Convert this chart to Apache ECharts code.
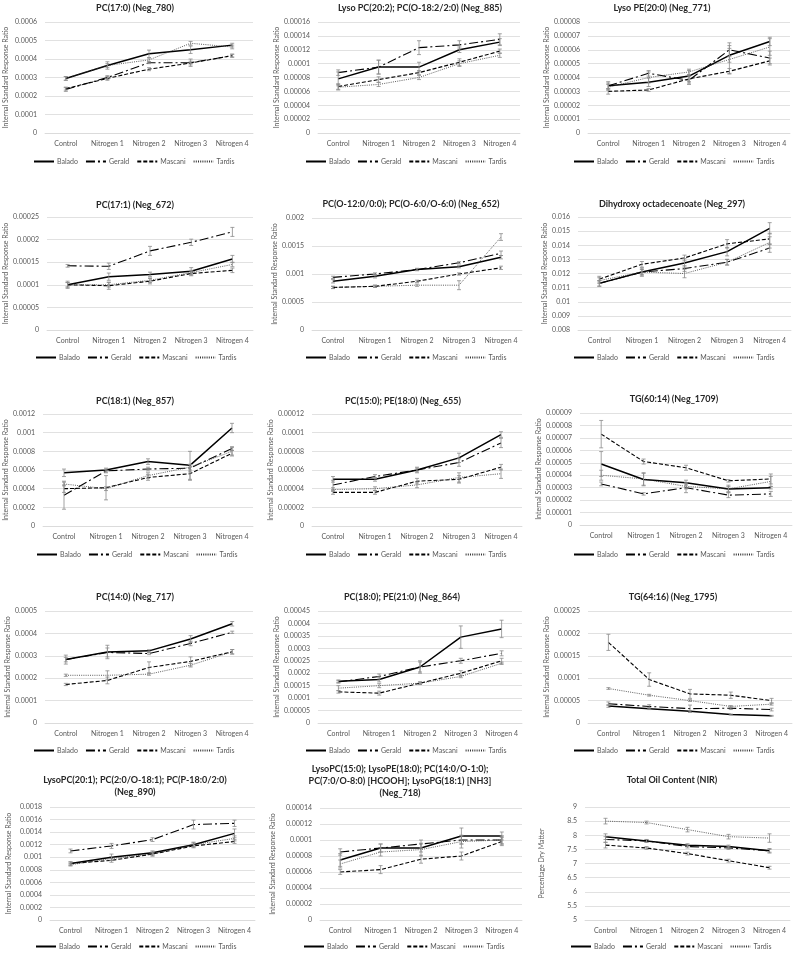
<!DOCTYPE html>
<html><head><meta charset="utf-8">
<script src="https://cdn.jsdelivr.net/npm/echarts@6/dist/echarts.min.js"></script>
<style>html,body{margin:0;padding:0;background:#fff}#c{width:793px;height:954px}</style>
</head><body><div id="c"></div>
<script>
// ---------- DATA ----------
const categories = ['Control','Nitrogen 1','Nitrogen 2','Nitrogen 3','Nitrogen 4'];
const varieties = ['Balado','Gerald','Mascani','Tardis'];
const panelTitles = [
  'PC(17:0) (Neg_780)',
  'Lyso PC(20:2); PC(O-18:2/2:0) (Neg_885)',
  'Lyso PE(20:0) (Neg_771)',
  'PC(17:1) (Neg_672)',
  'PC(O-12:0/0:0); PC(O-6:0/O-6:0) (Neg_652)',
  'Dihydroxy octadecenoate (Neg_297)',
  'PC(18:1) (Neg_857)',
  'PC(15:0); PE(18:0) (Neg_655)',
  'TG(60:14) (Neg_1709)',
  'PC(14:0) (Neg_717)',
  'PC(18:0); PE(21:0) (Neg_864)',
  'TG(64:16) (Neg_1795)',
  'LysoPC(20:1); PC(2:0/O-18:1); PC(P-18:0/2:0)\n(Neg_890)',
  'LysoPC(15:0); LysoPE(18:0); PC(14:0/O-1:0);\nPC(7:0/O-8:0) [HCOOH]; LysoPG(18:1) [NH3]\n(Neg_718)',
  'Total Oil Content (NIR)'
];
const yAxisNames = Array(14).fill('Internal Standard Response Ratio').concat(['Percentage Dry Matter']);
const yMins  = [0,0,0, 0,0,0.008, 0,0,0, 0,0,0, 0,0,5];
const yMaxs  = [0.0006,0.00016,0.00008, 0.00025,0.002,0.016, 0.0012,0.00012,0.00009, 0.0005,0.00045,0.00025, 0.0018,0.00014,9];
const ySteps = [0.0001,0.00002,0.00001, 0.00005,0.0005,0.001, 0.0002,0.00002,0.00001, 0.0001,0.00005,0.00005, 0.0002,0.00002,0.5];

// means: rows = Balado, Gerald, Mascani, Tardis
const neg780 = [[0.000295,0.000365,0.000428,0.00045,0.000475],[0.000235,0.0003,0.00038,0.00038,0.000418],[0.00024,0.000295,0.000345,0.000378,0.000418],[0.000295,0.000365,0.000395,0.000485,0.000465]];
const neg780Err = [[0.00001,0.00001,0.00002,0.00002,0.00001],[0.00001,0.00001,0.000005,0.00002,0.000008],[0.000008,0.00001,0.000008,0.00001,0.000008],[0.00001,0.00002,0.00001,0.00001,0.00001]];
const neg885 = [[0.000078,0.000095,0.000095,0.00012,0.000131],[0.000087,0.000095,0.000123,0.000127,0.000135],[0.000067,0.000077,0.000087,0.000102,0.000118],[0.000066,0.00007,0.00008,0.0001,0.000112]];
const neg885Err = [[0.00001,0.00001,0.000007,0.000004,0.000005],[0.000004,0.00001,0.00001,0.000006,0.000008],[0.000004,0.000004,0.000003,0.000005,0.000003],[0.000004,0.000003,0.000003,0.000004,0.000003]];
const neg771 = [[0.000034,0.0000365,0.000041,0.000056,0.000066],[0.000034,0.000043,0.000038,0.00006,0.000054],[0.00003,0.000031,0.000039,0.0000445,0.000052],[0.000033,0.00004,0.000044,0.000053,0.000062]];
const neg771Err = [[0.000003,0.000003,0.000004,0.000005,0.000003],[0.000002,0.000002,0.000003,0.000005,0.000005],[0.000002,0.000001,0.000003,0.000002,0.000002],[0.000002,0.000004,0.000002,0.00001,0.000006]];
const neg672 = [[0.0001,0.000118,0.000123,0.00013,0.000157],[0.000142,0.000141,0.000175,0.000194,0.000217],[0.0001,0.000098,0.000108,0.000125,0.000132],[0.0001,0.0001,0.00011,0.000127,0.000145]];
const neg672Err = [[0.000008,0.000008,0.000005,0.000008,0.000008],[0.000003,0.000007,0.00001,0.000007,0.00001],[0.000005,0.000008,0.000006,0.000005,0.000005],[0.000005,0.000005,0.000005,0.000005,0.000005]];
const neg652 = [[0.00087,0.00096,0.00108,0.00113,0.0013],[0.00094,0.001,0.00108,0.0012,0.00137],[0.00076,0.00078,0.00087,0.001,0.00111],[0.00076,0.00078,0.0008,0.0008,0.00166]];
const neg652Err = [[0.00003,0.00003,0.00002,0.00002,0.00003],[0.00002,0.00002,0.00002,0.00002,0.00004],[0.00002,0.00002,0.00002,0.00002,0.00003],[0.00002,0.00002,0.00002,0.00008,0.00006]];
const neg297 = [[0.0113,0.0121,0.01275,0.01355,0.0152],[0.0113,0.0121,0.01235,0.0128,0.0138],[0.0116,0.01265,0.0131,0.0141,0.01445],[0.0115,0.0121,0.012,0.0128,0.0142]];
const neg297Err = [[0.0002,0.0002,0.0003,0.0003,0.0004],[0.0002,0.0002,0.0002,0.0002,0.0003],[0.0002,0.0002,0.0002,0.0003,0.0004],[0.0002,0.0003,0.0003,0.0002,0.0004]];
const neg857 = [[0.00057,0.0006,0.00069,0.00065,0.00105],[0.00033,0.00059,0.00061,0.00062,0.00083],[0.0004,0.00041,0.00052,0.00056,0.00078],[0.00045,0.0004,0.00054,0.00063,0.0008]];
const neg857Err = [[0.00004,0.00002,0.00003,0.00015,0.00005],[0.00015,0.00002,0.00002,0.00004,0.00002],[0.00004,0.00013,0.00003,0.00007,0.00003],[0.00002,0.00002,0.00003,0.00003,0.00004]];
const neg655 = [[0.00005,0.00005,0.00006,0.000073,0.000098],[0.000044,0.000053,0.00006,0.000068,0.000089],[0.000036,0.000036,0.000048,0.00005,0.000063],[0.000039,0.00004,0.000044,0.000052,0.000056]];
const neg655Err = [[0.000003,0.000002,0.000002,0.000005,0.000003],[0.000005,0.000002,0.000003,0.000004,0.000005],[0.000002,0.000002,0.000003,0.000004,0.000003],[0.000002,0.000002,0.000003,0.000005,0.000005]];
const neg1709 = [[0.000049,0.0000365,0.000034,0.000029,0.00003],[0.000033,0.000025,0.00003,0.000024,0.000025],[0.000073,0.000051,0.000046,0.0000355,0.000037],[0.00004,0.000037,0.000031,0.000029,0.000035]];
const neg1709Err = [[0.00001,0.000005,0.000002,0.000002,0.000001],[0.0000015,0.000001,0.000004,0.000002,0.000002],[0.000011,0.000002,0.000002,0.000001,0.000004],[0.000004,0.000005,0.000002,0.000003,0.000004]];
const neg717 = [[0.000283,0.000317,0.000322,0.000375,0.000443],[0.000283,0.000315,0.00031,0.000355,0.000405],[0.000172,0.00019,0.000248,0.000275,0.000318],[0.000213,0.000213,0.000218,0.000258,0.000318]];
const neg717Err = [[0.00002,0.00003,0.000005,0.000015,0.00001],[0.00001,0.00002,0.000005,0.00001,0.000005],[0.000005,0.000015,0.000025,0.00002,0.00001],[0.000005,0.00002,0.000005,0.000008,0.00001]];
const neg864 = [[0.000168,0.000175,0.000225,0.000345,0.000378],[0.000165,0.000187,0.000225,0.00025,0.00028],[0.000125,0.00012,0.00016,0.0002,0.00025],[0.00014,0.00015,0.00016,0.000187,0.00024]];
const neg864Err = [[0.000005,0.00001,0.000025,0.000045,0.000035],[0.000005,0.00001,0.00002,0.00001,0.00001],[0.000005,0.000008,0.000005,0.00001,0.00001],[0.00001,0.000008,0.000005,0.000005,0.000005]];
const neg1795 = [[0.000038,0.000032,0.000026,0.000019,0.000016],[0.000043,0.000037,0.000032,0.000033,0.00003],[0.00018,0.000097,0.000065,0.000062,0.00005],[0.000077,0.000062,0.00005,0.000037,0.000042]];
const neg1795Err = [[0.000003,0.000002,0.000002,0.000001,0.000001],[0.000004,0.000004,0.000008,0.000003,0.000003],[0.000018,0.000015,0.00001,0.000007,0.000005],[0.000002,0.000002,0.000002,0.000002,0.000002]];
const neg890 = [[0.0009,0.001,0.00107,0.0012,0.00138],[0.0011,0.00118,0.00128,0.00152,0.00154],[0.0009,0.00095,0.00105,0.00118,0.00125],[0.00088,0.00098,0.00105,0.0012,0.0013]];
const neg890Err = [[0.00003,0.00005,0.00003,0.00004,0.00007],[0.00003,0.00004,0.00003,0.00007,0.00005],[0.00002,0.00003,0.00003,0.00003,0.00003],[0.00002,0.00003,0.00003,0.00003,0.00004]];
const neg718 = [[0.000075,0.00009,0.00009,0.000105,0.000105],[0.000085,0.00009,0.000095,0.0001,0.0001],[0.00006,0.000063,0.000076,0.00008,0.000098],[0.00007,0.000085,0.000088,0.000098,0.0001]];
const neg718Err = [[0.000008,0.000005,0.000005,0.00001,0.000005],[0.000004,0.000005,0.000005,0.000005,0.000005],[0.000003,0.000005,0.000005,0.000005,0.000005],[0.000005,0.000005,0.000008,0.000008,0.000005]];
const oilNIR = [[7.95,7.8,7.65,7.6,7.45],[7.85,7.8,7.6,7.55,7.45],[7.65,7.55,7.35,7.1,6.85],[8.5,8.45,8.2,7.95,7.9]];
const oilNIRErr = [[0.1,0.05,0.05,0.05,0.08],[0.1,0.05,0.05,0.05,0.05],[0.1,0.05,0.05,0.05,0.05],[0.1,0.05,0.08,0.08,0.15]];

const panelMeans = [neg780,neg885,neg771,neg672,neg652,neg297,neg857,neg655,neg1709,neg717,neg864,neg1795,neg890,neg718,oilNIR];
const panelErrs = [neg780Err,neg885Err,neg771Err,neg672Err,neg652Err,neg297Err,neg857Err,neg655Err,neg1709Err,neg717Err,neg864Err,neg1795Err,neg890Err,neg718Err,oilNIRErr];

// ---------- LAYOUT ----------
const gridBoxes = [
  [45,22,208,111],[318,22,202,111],[588,22,202,111],
  [47,217,206,113],[312,218,210,112],[578,217,213,113],
  [43,414,210,112],[312,414,210,112],[580,413,212,112],
  [45,611,208,112],[318,611,204,112],[588,611,204,112],
  [50,807,205,113],[320,808,202,112],[585,807,205,113]
];
const nameGaps = [36,36,34, 31,28,26, 29,33,25, 31,34,33, 38,44,40];
const titlePos = [
  [135,8],[420,8],[662,8],
  [135,205],[411,204],[672,204],
  [135,401],[403,401],[674,399],
  [135,597],[402,597],[673,597],
  [135,786],[400,781],[672,780]
];
const legendPos = [
  [33,163],[305,163],[573,163],
  [35,359],[305,359],[573,359],
  [36,556],[305,556],[573,556],
  [33,752],[305,752],[573,752],
  [35,948],[303,948],[570,948]
];
const FONT = 'Lato, "Open Sans", sans-serif';
const lineStyles = [
  {type:'solid', width:1.5, color:'#000'},
  {type:[9,3,2,3], width:1.1, color:'#000'},
  {type:[4,2], width:1.1, color:'#000'},
  {type:[1,1.2], width:0.8, color:'#333'}
];

function fmt(v){ return String(+Number(v).toPrecision(8)); }

function errRender(params, api){
  const x = api.value(0), lo = api.value(1), hi = api.value(2);
  const a = api.coord([x, lo]), b = api.coord([x, hi]);
  const hw = 2;
  const st = {stroke:'#8a8a8a', lineWidth:0.8, fill:null};
  return {type:'group', children:[
    {type:'line', shape:{x1:a[0],y1:a[1],x2:b[0],y2:b[1]}, style:st},
    {type:'line', shape:{x1:a[0]-hw,y1:a[1],x2:a[0]+hw,y2:a[1]}, style:st},
    {type:'line', shape:{x1:b[0]-hw,y1:b[1],x2:b[0]+hw,y2:b[1]}, style:st}
  ]};
}

const grid=[], xAxis=[], yAxis=[], series=[], legend=[], graphic=[];
panelTitles.forEach((t,p)=>{
  const [l,tp,w,h] = gridBoxes[p];
  grid.push({left:l, top:tp, width:w, height:h, containLabel:false});
  xAxis.push({type:'category', gridIndex:p, data:categories, boundaryGap:true,
    axisLine:{lineStyle:{color:'#d9d9d9', width:0.8}}, axisTick:{show:false},
    axisLabel:{fontFamily:FONT, fontSize:7, color:'#595959', margin:7, interval:0}});
  yAxis.push({type:'value', gridIndex:p, min:yMins[p], max:yMaxs[p], interval:ySteps[p],
    name:yAxisNames[p], nameLocation:'middle', nameGap:nameGaps[p],
    nameTextStyle:{fontFamily:FONT, fontSize:7, color:'#595959'},
    axisLine:{show:false}, axisTick:{show:false},
    splitLine:{lineStyle:{color:'#d9d9d9', width:0.8}},
    axisLabel:{fontFamily:FONT, fontSize:7, color:'#595959', margin:8, formatter:fmt}});
  const means = panelMeans[p], errs = panelErrs[p];
  varieties.forEach((v,s)=>{
    series.push({type:'line', name:v, xAxisIndex:p, yAxisIndex:p, data:means[s],
      symbol:'none', smooth:false, silent:true, animation:false,
      lineStyle:{color:lineStyles[s].color, width:lineStyles[s].width, type:lineStyles[s].type},
      itemStyle:{color:lineStyles[s].color}, z:2});
  });
  const ed=[];
  varieties.forEach((v,s)=>{ means[s].forEach((m,i)=>{ ed.push([i, m-errs[s][i], m+errs[s][i]]); }); });
  series.push({type:'custom', name:'err'+p, xAxisIndex:p, yAxisIndex:p, data:ed,
    renderItem:errRender, encode:{x:0, y:[1,2]}, silent:true, animation:false, z:3});
  legend.push({data:varieties, left:legendPos[p][0], top:legendPos[p][1]-5,
    itemWidth:20, itemHeight:8, itemGap:7, padding:0,
    itemStyle:{opacity:0, borderWidth:0},
    textStyle:{fontFamily:FONT, fontSize:7, color:'#595959', padding:[0,0,0,-2]},
    selectedMode:false});
  graphic.push({type:'text', x:titlePos[p][0], y:titlePos[p][1],
    style:{text:t, fill:'#262626', font:'bold 9px '+FONT, textAlign:'center', textVerticalAlign:'middle', lineHeight:12}});
});

const chart = echarts.init(document.getElementById('c'), null, {renderer:'canvas'});
chart.setOption({animation:false, backgroundColor:'#fff', grid, xAxis, yAxis, series, legend, graphic});
</script>
</body></html>
